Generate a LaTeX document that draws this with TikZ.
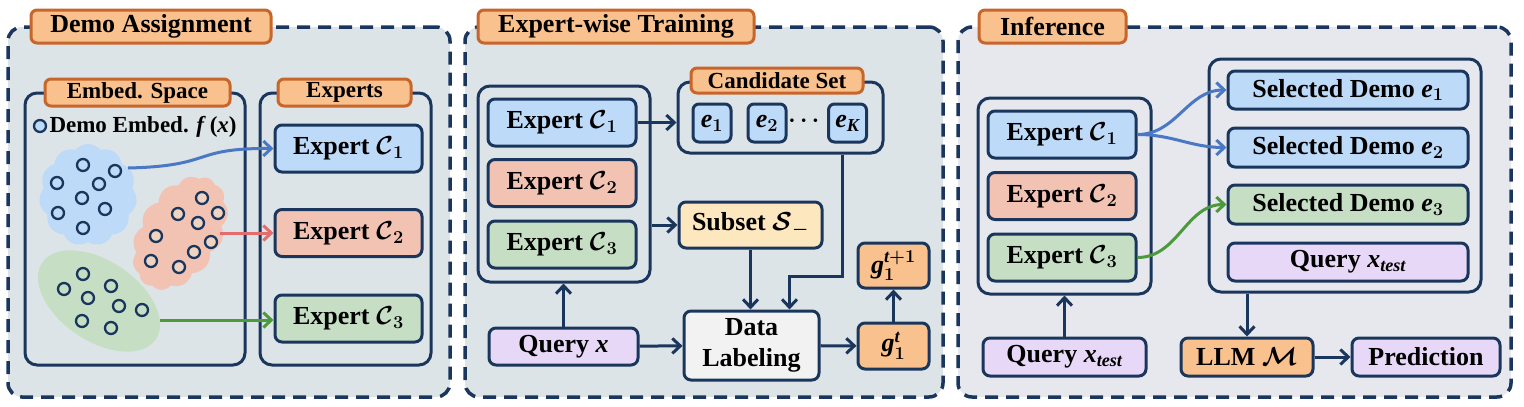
\RequirePackage{fix-cm}
\documentclass[tikz,border=0pt]{standalone}
\usepackage{amsmath}
\usepackage{bm}
\usepackage{fontspec}
\setmainfont{Liberation Serif}
\usepackage{tikz}
\usetikzlibrary{positioning,calc,shapes.geometric,shapes.symbols,arrows.meta}

\definecolor{navy}{HTML}{1B365D}
\definecolor{orfill}{HTML}{F8C18D}
\definecolor{ordraw}{HTML}{C8652A}
\definecolor{bluefill}{HTML}{BDDAF9}
\definecolor{redfill}{HTML}{F2C3B3}
\definecolor{redin}{HTML}{EFD3C3}
\definecolor{greenfill}{HTML}{C6DFC4}
\definecolor{purplefill}{HTML}{E6D8F6}
\definecolor{yellowfill}{HTML}{FCE7BE}
\definecolor{greyfill}{HTML}{F2F2F2}
\definecolor{panelA}{HTML}{DDE4E7}
\definecolor{panelB}{HTML}{E6E8EE}
\definecolor{arblue}{HTML}{4A78C4}
\definecolor{arred}{HTML}{E36C6C}
\definecolor{argreen}{HTML}{4C9A3C}

\newcommand{\block}[5][]{
	% boxes are placed at pixel positions
	\node [blk, #1] (#2) at (#3, #4) {#5};
}
\newcommand{\emb}[4][]{
	\node [emb, #1] (#2) at (#3, #4) {};
}
\newcommand{\flow}[3][]{
	\path [draw=navy, ->, #1] (#2) -- (#3);
}
% bold italic letters from the text font
\newcommand{\vv}[1]{\textit{#1}}

\begin{document}
\begin{tikzpicture}[x=1pt, y=-1pt, line width=3pt,
	>={Straight Barb[length=8pt,width=15pt]},
	font=\fontsize{26}{29}\selectfont\bfseries\boldmath,
	blk/.style={draw=navy, rounded corners=7pt, inner sep=0pt, align=center, line width=3pt},
	grp/.style={draw=navy, rounded corners=12pt, line width=3pt, inner sep=0pt},
	tag/.style={draw=ordraw, fill=orfill, rounded corners=6pt, line width=3pt, inner sep=0pt},
	panel/.style={draw=navy, line width=3.5pt, dash pattern=on 13pt off 8pt, rounded corners=14pt, inner sep=0pt},
	emb/.style={circle, draw=navy, line width=2.3pt, minimum size=12pt, inner sep=0pt},
	lbl/.style={font=\fontsize{23}{26}\selectfont\bfseries\boldmath, inner sep=0pt},
	tint/.style={line width=3pt}]
	\useasboundingbox (0,0) rectangle (1524,407);

	% panels
	\node [panel, fill=panelA, minimum width=442pt, minimum height=370pt] (pa) at (229,212) {};
	\node [panel, fill=panelA, minimum width=478pt, minimum height=370pt] (pb) at (704,212) {};
	\node [panel, fill=panelB, minimum width=553pt, minimum height=370pt] (pc) at (1234.5,212) {};
	\node [tag, minimum width=240pt, minimum height=33pt] (ta) at (151,26.5) {Demo Assignment};
	\node [tag, minimum width=276pt, minimum height=33pt] (tb) at (616,26.5) {Expert-wise Training};
	\node [tag, minimum width=147pt, minimum height=33pt] (tc) at (1052.5,26.5) {Inference};

	% demo assignment
	\node [cloud, cloud puffs=11, cloud puff arc=100, cloud ignores aspect, fill=bluefill, minimum width=98pt, minimum height=102pt, inner sep=0pt] (cb) at (88,195) {};
	\node [cloud, cloud puffs=13, cloud puff arc=100, cloud ignores aspect, fill=redfill, minimum width=124pt, minimum height=82pt, inner sep=0pt, rotate=58] (cr) at (180,233) {};
	\node [ellipse, fill=greenfill, minimum width=137pt, minimum height=80pt, inner sep=0pt, rotate=-34] (cg) at (99,301) {};
	\node [grp, minimum width=220pt, minimum height=272pt] (espace) at (135,229) {};
	\node [grp, minimum width=171pt, minimum height=272pt] (xperts) at (345.5,229) {};
	\node [tag, lbl, minimum width=185pt, minimum height=27pt] (tsp) at (137.5,92.5) {Embed. Space};
	\node [tag, lbl, minimum width=133pt, minimum height=27pt] (txp) at (344.5,92.5) {Experts};
	\emb[fill=bluefill]{leg}{40}{126}
	\node [lbl, anchor=west] (legtxt) at (48,127) {Demo Embed. \vv{f}\,(\vv{x})};
	\emb[fill=bluefill]{b1}{83}{165}
	\emb[fill=bluefill]{b2}{115}{171}
	\emb[fill=bluefill]{b3}{57}{183}
	\emb[fill=bluefill]{b4}{99}{184}
	\emb[fill=bluefill]{b5}{82}{198}
	\emb[fill=bluefill]{b6}{58}{213}
	\emb[fill=bluefill]{b7}{105}{209}
	\emb[fill=bluefill]{b8}{83}{228}
	\emb[fill=redin]{r1}{202}{198}
	\emb[fill=redin]{r2}{178}{214}
	\emb[fill=redin]{r3}{218}{213}
	\emb[fill=redin]{r4}{198}{223}
	\emb[fill=redin]{r5}{156}{236}
	\emb[fill=redin]{r6}{211}{242}
	\emb[fill=redin]{r7}{194}{252}
	\emb[fill=redin]{r8}{151}{261}
	\emb[fill=redin]{r9}{179}{267}
	\emb[fill=greenfill]{g1}{83}{274}
	\emb[fill=greenfill]{g2}{64}{289}
	\emb[fill=greenfill]{g3}{111}{286}
	\emb[fill=greenfill]{g4}{88}{298}
	\emb[fill=greenfill]{g5}{119}{306}
	\emb[fill=greenfill]{g6}{142}{310}
	\emb[fill=greenfill]{g7}{82}{321}
	\emb[fill=greenfill]{g8}{111}{328}
	\block[fill=bluefill, minimum width=147pt, minimum height=47pt]{xa1}{348.5}{148.5}{Expert $\bm{\mathcal{C}}_1$}
	\block[fill=redfill, minimum width=147pt, minimum height=47pt]{xa2}{348.5}{233}{Expert $\bm{\mathcal{C}}_2$}
	\block[fill=greenfill, minimum width=147pt, minimum height=47pt]{xa3}{348.5}{318.5}{Expert $\bm{\mathcal{C}}_3$}
	\coordinate (fb) at (128,168);
	\coordinate (fr) at (220,233);
	\coordinate (fg) at (160,320);
	\draw [arblue, ->, tint] (fb) .. controls (215,166) and (190,148) .. (xa1.west);
	\draw [arred, ->, tint] (fr) -- (xa2.west);
	\draw [argreen, ->, tint] (fg) -- (fg -| xa3.west);

	% expert-wise training
	\node [grp, minimum width=172pt, minimum height=196pt] (gb) at (564,184) {};
	\block[fill=bluefill, minimum width=148pt, minimum height=47pt]{tb1}{562}{122.5}{Expert $\bm{\mathcal{C}}_1$}
	\block[fill=redfill, minimum width=148pt, minimum height=47pt]{tb2}{562}{183}{Expert $\bm{\mathcal{C}}_2$}
	\block[fill=greenfill, minimum width=148pt, minimum height=47pt]{tb3}{562}{244.5}{Expert $\bm{\mathcal{C}}_3$}
	\node [grp, minimum width=205pt, minimum height=71pt] (cand) at (780.5,117.5) {};
	\node [tag, lbl, minimum width=172pt, minimum height=25pt] (tcand) at (777,80.5) {Candidate Set};
	\block[fill=bluefill, minimum width=38pt, minimum height=38pt, rounded corners=6pt]{e1}{712}{123}{$\vv{e}_1$}
	\block[fill=bluefill, minimum width=38pt, minimum height=38pt, rounded corners=6pt]{e2}{767}{123}{$\vv{e}_2$}
	\node [lbl] (dots) at (806,121) {$\cdots$};
	\block[fill=bluefill, minimum width=38pt, minimum height=38pt, rounded corners=6pt]{ek}{847.5}{123}{$\vv{e}_{\vv{K}}$}
	\block[fill=yellowfill, minimum width=143pt, minimum height=46pt]{sub}{750.5}{225}{Subset $\bm{\mathcal{S}}_-$}
	\block[fill=purplefill, minimum width=149pt, minimum height=37pt]{qx}{563.5}{346.5}{Query \vv{x}}
	\block[fill=greyfill, minimum width=135pt, minimum height=69pt]{dl}{751.5}{345.5}{Data\\[2pt]Labeling}
	\block[fill=orfill, minimum width=71pt, minimum height=46pt]{gt}{893.5}{346}{$\vv{g}_1^{\vv{t}}$}
	\block[fill=orfill, minimum width=71pt, minimum height=45pt]{gtt}{893.5}{265.5}{$\vv{g}_1^{\vv{t}+1}$}
	\flow{tb1.east}{tb1.east -| cand.west}
	\flow{sub.west -| gb.east}{sub.west}
	\flow{qx}{qx |- gb.south}
	\flow{sub}{sub |- dl.north}
	\draw [navy, ->] (cand.south -| 842,0) -- ++(0,122) -| ($(dl.north)+(38,0)$);
	\flow{qx}{dl}
	\flow{dl}{gt}
	\flow{gt}{gtt}

	% inference
	\node [grp, minimum width=173pt, minimum height=196pt] (gc) at (1064.5,196) {};
	\block[fill=bluefill, minimum width=148pt, minimum height=47pt]{ic1}{1062}{134.5}{Expert $\bm{\mathcal{C}}_1$}
	\block[fill=redfill, minimum width=148pt, minimum height=47pt]{ic2}{1062}{196}{Expert $\bm{\mathcal{C}}_2$}
	\block[fill=greenfill, minimum width=148pt, minimum height=47pt]{ic3}{1062}{257.5}{Expert $\bm{\mathcal{C}}_3$}
	\block[fill=purplefill, minimum width=163pt, minimum height=38pt]{qt}{1064.5}{357}{Query $\vv{x}_{\vv{test}}$}
	\node [grp, minimum width=272pt, minimum height=233pt] (gd) at (1345,175.5) {};
	\block[fill=bluefill, minimum width=240pt, minimum height=38pt]{se1}{1348}{90}{Selected Demo $\vv{e}_1$}
	\block[fill=bluefill, minimum width=240pt, minimum height=39pt]{se2}{1348}{147.5}{Selected Demo $\vv{e}_2$}
	\block[fill=greenfill, minimum width=240pt, minimum height=39pt]{se3}{1348}{204.5}{Selected Demo $\vv{e}_3$}
	\block[fill=purplefill, minimum width=240pt, minimum height=38pt]{sq}{1348}{262}{Query $\vv{x}_{\vv{test}}$}
	\block[fill=orfill, minimum width=132pt, minimum height=38pt]{llm}{1247}{357}{LLM $\bm{\mathcal{M}}$}
	\block[fill=purplefill, minimum width=148pt, minimum height=38pt]{pred}{1426}{357}{Prediction}
	\draw [arblue, ->, tint] (ic1.east) to[out=0, in=180] (se1.west);
	\draw [arblue, ->, tint] (ic1.east) to[out=0, in=180] (se2.west);
	\draw [argreen, ->, tint] (ic3.east) to[out=0, in=180] (se3.west);
	\flow{qt}{qt |- gc.south}
	\flow{llm |- gd.south}{llm}
	\flow{llm}{pred}
\end{tikzpicture}
\end{document}
